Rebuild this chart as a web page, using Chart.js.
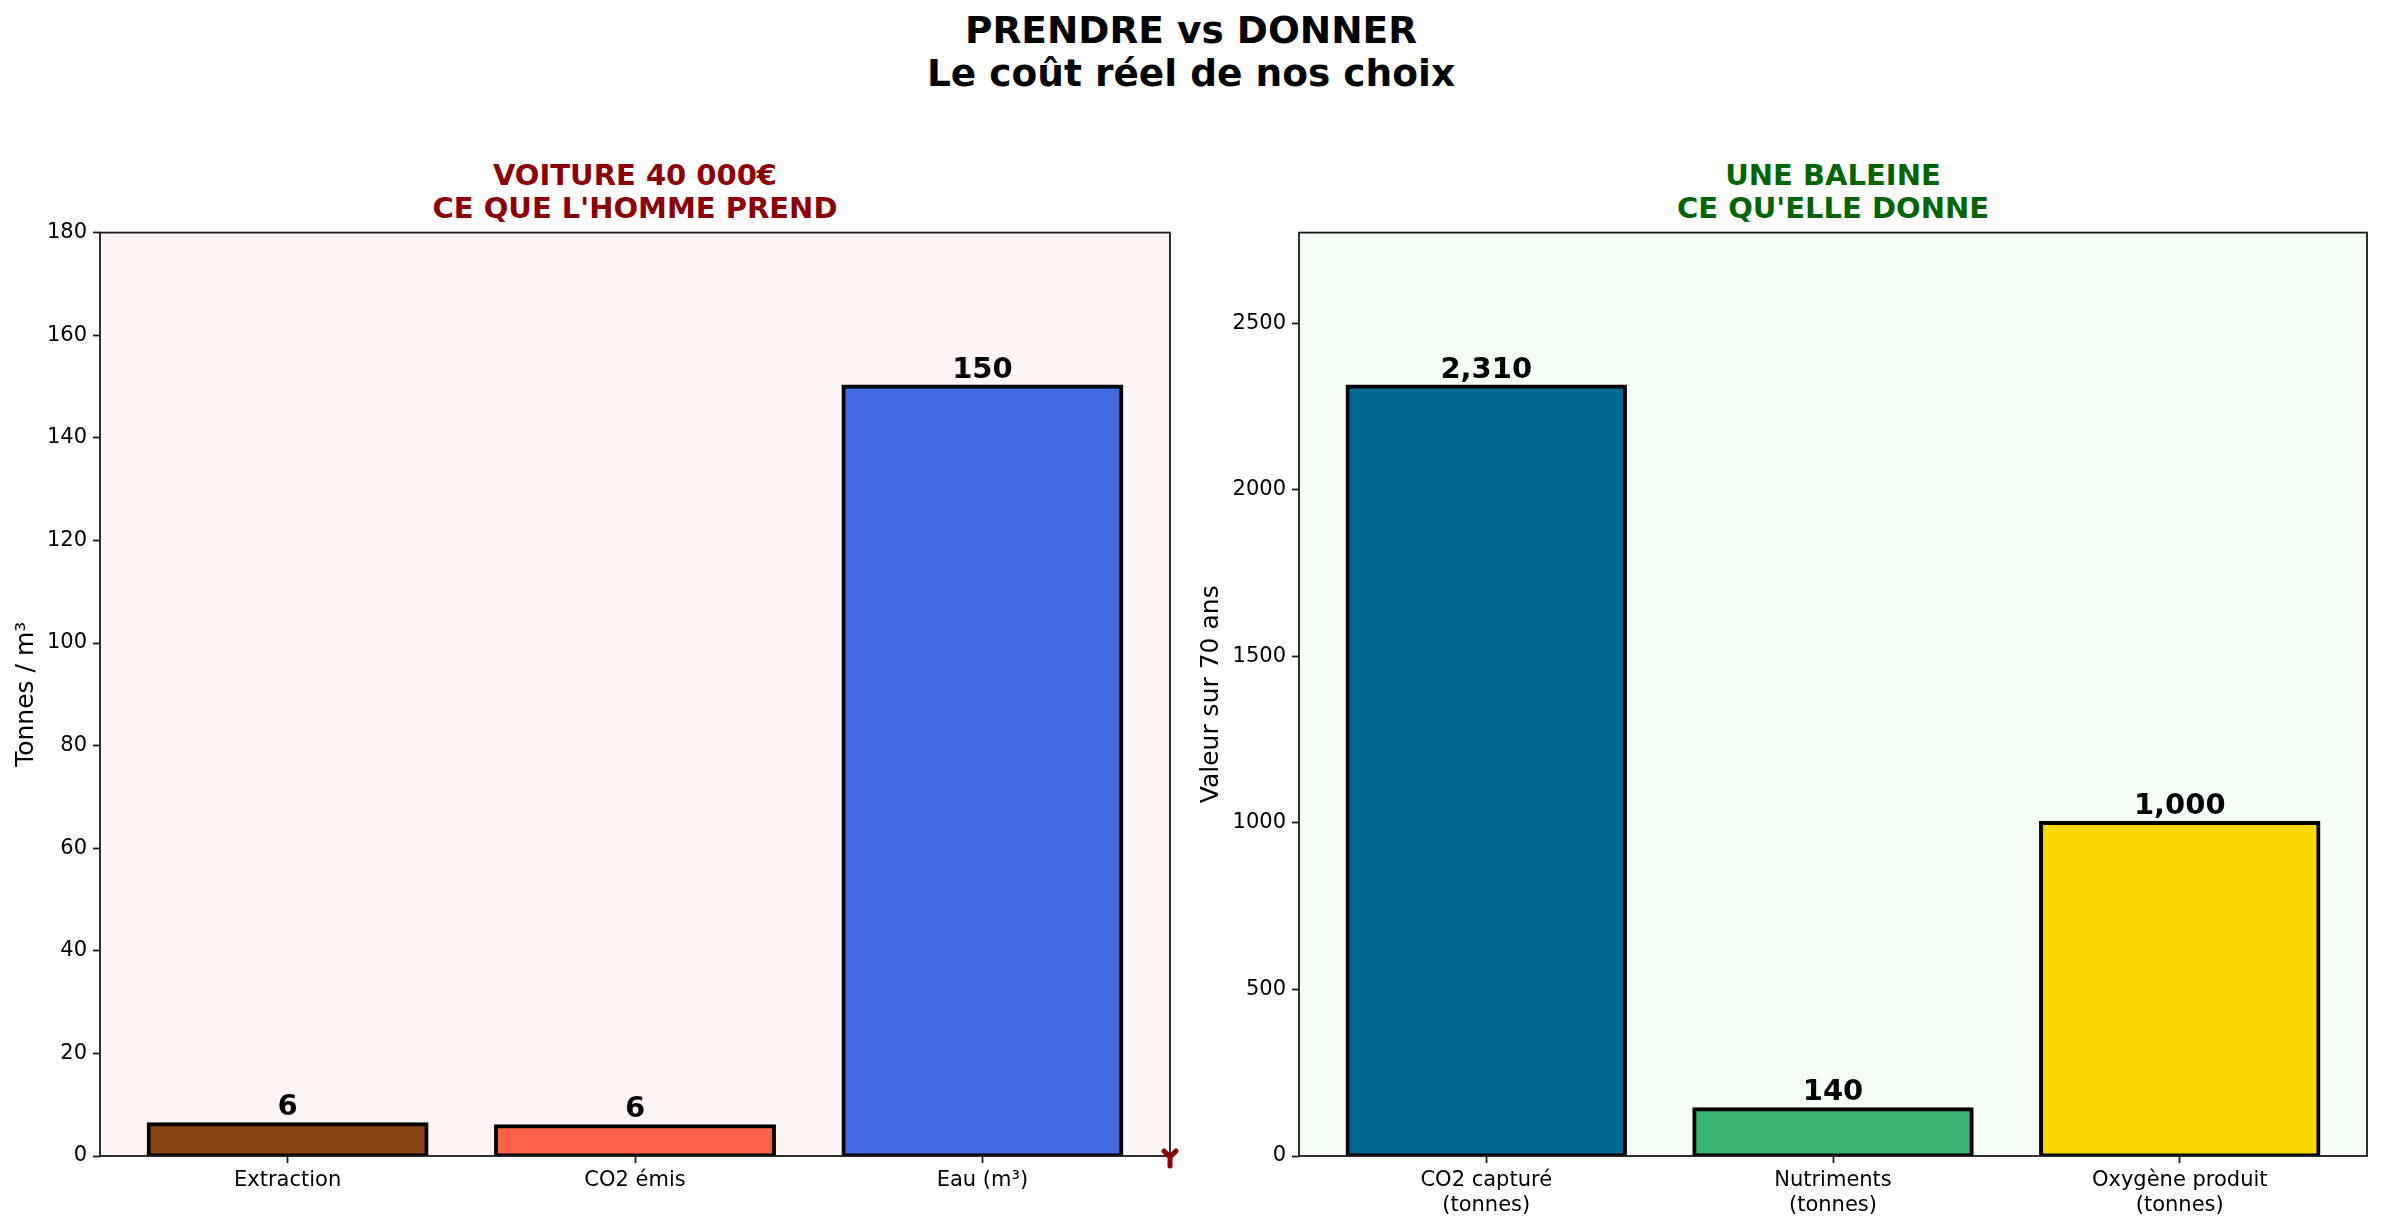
<!DOCTYPE html>
<html>
<head>
<meta charset="utf-8">
<script src="https://cdn.jsdelivr.net/npm/chart.js@4.4.0/dist/chart.umd.min.js"></script>
<style>
  html, body { margin: 0; padding: 0; background: #ffffff; }
  body { width: 2382px; height: 1230px; position: relative; overflow: hidden; font-family: "DejaVu Sans", sans-serif; }
  .title { position: absolute; text-align: center; font-weight: bold; }
  canvas { position: absolute; }
</style>
</head>
<body>
<div class="title" style="left:0; width:2382px; top:9px; font-size:37.5px; line-height:43px; color:#000;">PRENDRE vs DONNER<br>Le coût réel de nos choix</div>
<div class="title" style="left:235px; width:800px; top:159px; font-size:29px; line-height:33px; color:#8B0000;">VOITURE 40 000€<br>CE QUE L'HOMME PREND</div>
<div class="title" style="left:1433px; width:800px; top:159px; font-size:29px; line-height:33px; color:#006400;">UNE BALEINE<br>CE QU'ELLE DONNE</div>

<canvas id="carchart" width="1180" height="1016" style="left:0; top:214px;"></canvas>
<canvas id="whalechart" width="1192" height="1016" style="left:1190px; top:214px;"></canvas>

<script>
// data
const carCategories = ["Extraction", "CO2 émis", "Eau (m³)"];
const carValues = [6.2, 5.8, 150];
const carColors = ["#8B4513", "#FF6347", "#4169E1"];
const carTicks = [0, 20, 40, 60, 80, 100, 120, 140, 160, 180];

const whaleCategories = [["CO2 capturé", "(tonnes)"], ["Nutriments", "(tonnes)"], ["Oxygène produit", "(tonnes)"]];
const whaleValues = [2310, 140, 1000];
const whaleColors = ["#006994", "#3CB371", "#FFD700"];
const whaleTicks = [0, 500, 1000, 1500, 2000, 2500];

const tickFont = { family: "DejaVu Sans", size: 21 };

// fill + frame of the plot area, like matplotlib axes
const frameBg = {
    id: "frameBg",
    beforeDraw(chart, args, opts) {
        const a = chart.chartArea;
        const ctx = chart.ctx;
        ctx.save();
        ctx.fillStyle = opts.color;
        ctx.fillRect(a.left, a.top, a.right - a.left, a.bottom - a.top);
        ctx.restore();
    },
    afterDraw(chart) {
        const a = chart.chartArea;
        const ctx = chart.ctx;
        ctx.save();
        ctx.strokeStyle = "#1a1a1a";
        ctx.lineWidth = 1.8;
        ctx.strokeRect(a.left, a.top, a.right - a.left, a.bottom - a.top);
        ctx.restore();
    }
};

// bold value above each bar
const valueLabels = {
    id: "valueLabels",
    afterDatasetsDraw(chart) {
        const ctx = chart.ctx;
        const meta = chart.getDatasetMeta(0);
        const vals = chart.data.datasets[0].data;
        ctx.save();
        ctx.font = "bold 29px 'DejaVu Sans'";
        ctx.fillStyle = "#000";
        ctx.textAlign = "center";
        ctx.textBaseline = "alphabetic";
        meta.data.forEach(function(bar, i) {
            const txt = Math.round(vals[i].y).toLocaleString("en-US");
            ctx.fillText(txt, bar.x, bar.y - 9);
        });
        ctx.restore();
    }
};

// small dark red tri_down marker at the bottom right corner of the left axes
const cornerMark = {
    id: "cornerMark",
    afterDraw(chart) {
        const ctx = chart.ctx;
        const x = chart.scales.x.getPixelForValue(chart.scales.x.max);
        const y = chart.scales.y.getPixelForValue(0) + 1;
        ctx.save();
        ctx.strokeStyle = "#8B0000";
        ctx.lineWidth = 5;
        ctx.lineCap = "round";
        ctx.beginPath();
        ctx.moveTo(x, y); ctx.lineTo(x, y + 9);
        ctx.moveTo(x, y); ctx.lineTo(x - 6, y - 6);
        ctx.moveTo(x, y); ctx.lineTo(x + 6, y - 6);
        ctx.stroke();
        ctx.restore();
    }
};

function makeChart(el, categories, values, colors, opts) {
    const pad = 0.05 * (categories.length - 1 + 0.8);
    return new Chart(el, {
        type: "bar",
        data: {
            datasets: [{
                data: values.map(function(v, i) { return { x: i, y: v }; }),
                backgroundColor: colors,
                borderColor: "#000000",
                borderWidth: 4,
                borderSkipped: false,
                inflateAmount: 2,
                barPercentage: 0.8,
                categoryPercentage: 1.0
            }]
        },
        options: {
            responsive: false,
            animation: false,
            devicePixelRatio: 1,
            layout: { padding: { top: 11, right: opts.padRight, left: 0, bottom: 0 } },
            plugins: {
                legend: { display: false },
                tooltip: { enabled: false },
                frameBg: { color: opts.bg }
            },
            scales: {
                x: {
                    type: "linear",
                    offset: false,
                    min: -0.4 - pad,
                    max: categories.length - 1 + 0.4 + pad,
                    afterBuildTicks: function(scale) {
                        scale.ticks = categories.map(function(c, i) { return { value: i }; });
                    },
                    afterFit: function(scale) { scale.height = 74; },
                    ticks: {
                        autoSkip: false,
                        maxRotation: 0,
                        padding: 5,
                        color: "#000",
                        font: tickFont,
                        callback: function(v) { return categories[v]; }
                    },
                    grid: { offset: false, drawOnChartArea: false, drawTicks: true, tickLength: 7, tickColor: "#1a1a1a", tickWidth: 1.8 },
                    border: { display: false }
                },
                y: {
                    min: 0,
                    max: opts.yMax,
                    afterBuildTicks: function(scale) {
                        scale.ticks = opts.yTicks.map(function(v) { return { value: v }; });
                    },
                    afterFit: function(scale) { scale.width = opts.yWidth; },
                    ticks: {
                        autoSkip: false,
                        padding: 6,
                        color: "#000",
                        font: tickFont,
                        callback: function(v) { return String(v); }
                    },
                    title: {
                        display: true,
                        text: opts.yTitle,
                        color: "#000",
                        font: { family: "DejaVu Sans", size: 25 },
                        padding: { top: opts.titlePad, bottom: 0 }
                    },
                    grid: { drawOnChartArea: false, drawTicks: true, tickLength: 7, tickColor: "#1a1a1a", tickWidth: 1.8 },
                    border: { display: false }
                }
            }
        },
        plugins: opts.plugins
    });
}

makeChart(document.getElementById("carchart"), carCategories, carValues, carColors, {
    yMax: Math.max(...carValues) * 1.2,
    yTicks: carTicks,
    yTitle: "Tonnes / m³",
    yWidth: 100,
    titlePad: 11,
    padRight: 10,
    bg: "#FFF5F5",
    plugins: [frameBg, valueLabels, cornerMark]
});

makeChart(document.getElementById("whalechart"), whaleCategories, whaleValues, whaleColors, {
    yMax: Math.max(...whaleValues) * 1.2,
    yTicks: whaleTicks,
    yTitle: "Valeur sur 70 ans",
    yWidth: 109,
    titlePad: 6,
    padRight: 15,
    bg: "#F5FFF5",
    plugins: [frameBg, valueLabels]
});
</script>
</body>
</html>
